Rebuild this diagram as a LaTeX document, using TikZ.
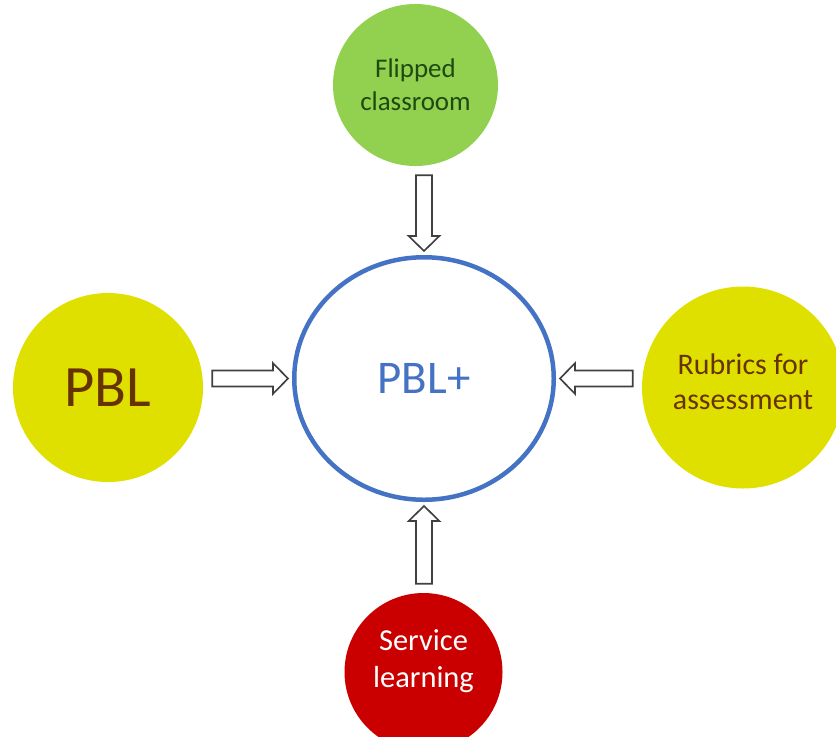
\documentclass[tikz,border=0pt]{standalone}
\usepackage{fontspec}
\setmainfont{Carlito}
\usetikzlibrary{shapes.geometric,calc,scopes}

\definecolor{ringblue}{HTML}{4472C4}
\definecolor{flipgreen}{HTML}{92D050}
\definecolor{pblyellow}{HTML}{E0E000}
\definecolor{servred}{HTML}{CA0000}
\definecolor{textbrown}{HTML}{663300}
\definecolor{textgreen}{HTML}{1E4A10}
\definecolor{arrowgray}{HTML}{404040}

\tikzset{
	blob/.style={ellipse, inner sep=0pt, align=center},
	blockarrow/.style={draw=arrowgray, fill=white, line width=1.4pt, line join=miter,
		to path={
			($(\tikztostart)!2.7mm!(\tikztotarget)!2.4mm!90:(\tikztotarget)$)
			-- ($(\tikztotarget)!5.7mm!(\tikztostart)!2.4mm!90:(\tikztotarget)$)
			-- ($(\tikztotarget)!5.7mm!(\tikztostart)!4.6mm!90:(\tikztotarget)$)
			-- ($(\tikztotarget)!1.2mm!(\tikztostart)$)
			-- ($(\tikztotarget)!5.7mm!(\tikztostart)!4.6mm!-90:(\tikztotarget)$)
			-- ($(\tikztotarget)!5.7mm!(\tikztostart)!2.4mm!-90:(\tikztotarget)$)
			-- ($(\tikztostart)!2.7mm!(\tikztotarget)!2.4mm!-90:(\tikztotarget)$)
			-- cycle}}
}

\begin{document}
\begin{tikzpicture}[x=0.3mm, y=-0.3mm]
			\useasboundingbox (0,0) rectangle (836,736);
			\clip (0,0) rectangle (836,736);

			{ [blob]
				\node[draw=ringblue, line width=1.35mm, fill=white, minimum width=77.85mm, minimum height=72.75mm,
					text=ringblue, font=\fontsize{40}{48}\selectfont] (core) at (424,378.5) {PBL+};
				\node[fill=flipgreen, minimum width=49.5mm, minimum height=48.6mm,
					text=textgreen, font=\fontsize{23}{28.5}\selectfont] (flip) at (415.5,85) {Flipped\\classroom};
				\node[fill=pblyellow, minimum width=57mm, minimum height=56.7mm,
					text=textbrown, font=\fontsize{50}{60}\selectfont] (pbl) at (108,387.5) {PBL};
				\node[fill=pblyellow, minimum width=60.6mm, minimum height=60.6mm, text depth=3.6mm,
					text=textbrown, font=\fontsize{25.5}{30.5}\selectfont] (rub) at (743,387.5) {Rubrics for\\assessment};
				\node[fill=servred, minimum width=47.4mm, minimum height=47.4mm, text depth=8mm,
					text=white, font=\fontsize{26}{31.5}\selectfont] (serv) at (423.5,672) {Service\\learning};
			}

			\draw[blockarrow] (flip.south -| core.north) to (core.north);
			\draw[blockarrow] (pbl.east |- core.west) to (core.west);
			\draw[blockarrow] (rub.west |- core.east) to (core.east);
			\draw[blockarrow] (serv.north -| core.south) to (core.south);
\end{tikzpicture}
\end{document}
